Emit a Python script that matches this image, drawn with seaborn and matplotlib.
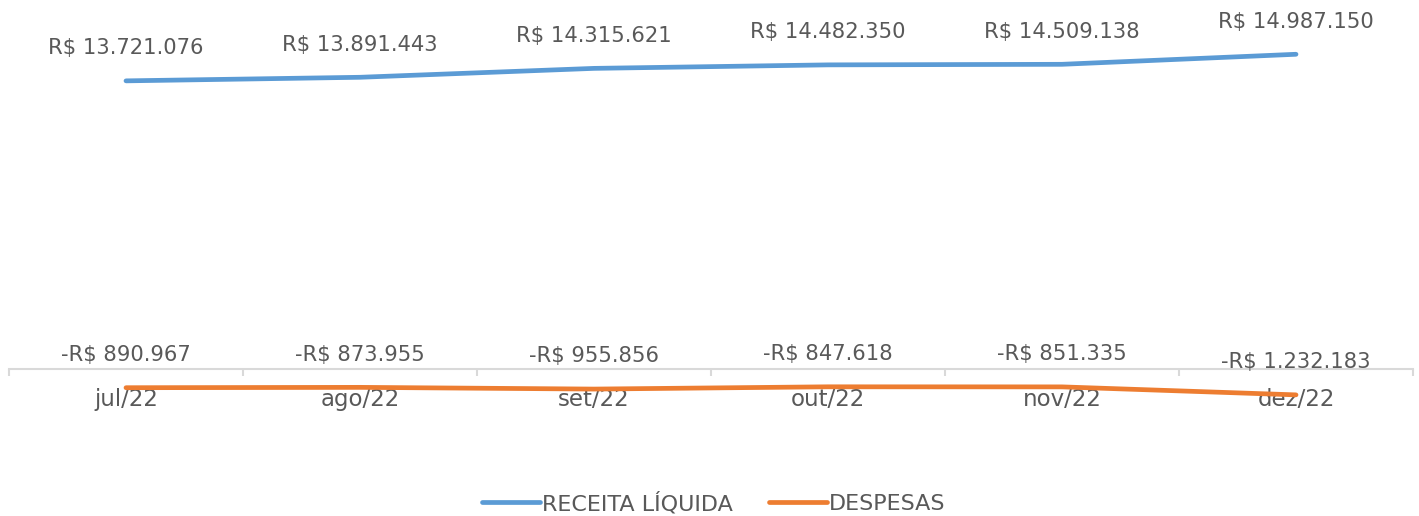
import pandas as pd
import matplotlib.pyplot as plt
import seaborn as sns
import numpy as np

# dados
meses = ['jul/22', 'ago/22', 'set/22', 'out/22', 'nov/22', 'dez/22']
receita = [13721076, 13891443, 14315621, 14482350, 14509138, 14987150]
despesas = [-890967, -873955, -955856, -847618, -851335, -1232183]

cores = {'RECEITA LÍQUIDA': '#5B9BD5', 'DESPESAS': '#ED7D31'}
cor_texto = '#595959'


def fmt_real(v):
    s = f"{abs(v):,.0f}".replace(',', '.')
    return ('-' if v < 0 else '') + 'R$ ' + s


df = pd.DataFrame({
    'mes': meses * 2,
    'pos': list(range(len(meses))) * 2,
    'valor': receita + despesas,
    'serie': ['RECEITA LÍQUIDA'] * len(meses) + ['DESPESAS'] * len(meses),
})

sns.set_style('white')
plt.rcParams['font.family'] = ['DejaVu Sans']

fig = plt.figure(figsize=(14.19, 5.16), dpi=100)
ax = fig.add_axes([9 / 1419, 76 / 516, 1404 / 1419, 435 / 516])

sns.lineplot(data=df, x='pos', y='valor', hue='serie', palette=cores,
             linewidth=3.4, ax=ax, legend=False, solid_capstyle='round')

# rótulos de dados
for _, r in df.iterrows():
    ax.annotate(fmt_real(r['valor']), (r['pos'], r['valor']),
                xytext=(0, 23.5), textcoords='offset points',
                ha='center', va='center', fontsize=15.2, color=cor_texto)

ax.set_xlim(-0.5, len(meses) - 0.5)
ax.set_ylim(-(440 - 369) / 21 * 1e6, (369 - 5) / 21 * 1e6)

for s in ['top', 'right', 'left']:
    ax.spines[s].set_visible(False)
ax.spines['bottom'].set_position(('data', 0))
ax.spines['bottom'].set_color('#D9D9D9')
ax.spines['bottom'].set_linewidth(1.5)

ax.set_yticks([])
ax.set_xticks(range(len(meses)))
ax.set_xticklabels(meses, fontsize=16.5, color=cor_texto)
ax.set_xticks(np.arange(-0.5, len(meses), 1), minor=True)
ax.tick_params(axis='x', which='major', length=0, pad=14)
ax.tick_params(axis='x', which='minor', length=5, width=1.5, color='#D9D9D9',
               direction='out', bottom=True)
ax.set_xlabel('')
ax.set_ylabel('')

handles = [plt.Line2D([], [], color=c, lw=3.4, solid_capstyle='round') for c in cores.values()]
fig.legend(handles, list(cores.keys()), loc='lower center', bbox_to_anchor=(0.503, -0.035),
           ncol=2, frameon=False, fontsize=16, labelcolor=cor_texto,
           handlelength=2.6, handletextpad=0.1, columnspacing=1.6)

fig.savefig('out.png', dpi=100)
